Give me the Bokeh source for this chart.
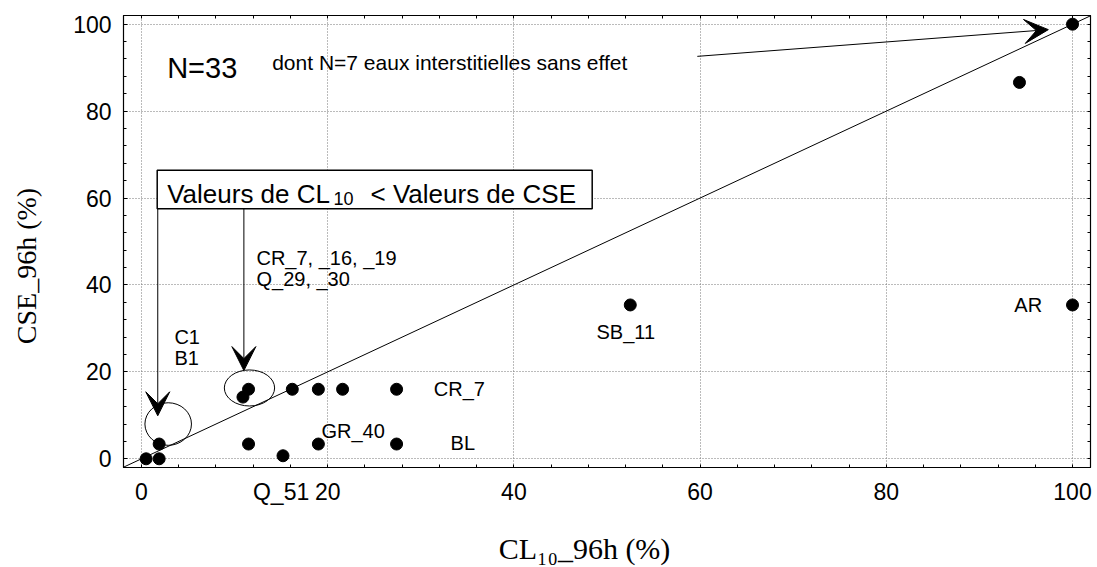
import math
from bokeh.plotting import figure
from bokeh.models import (Range1d, LinearAxis, Label, Arrow, VeeHead, BoxAnnotation,
                          Slope, FixedTicker, Grid)
from bokeh.embed import file_html
from bokeh.resources import INLINE

# ---------------- data ----------------
cl10_96h = [0.5, 1.9, 1.9, 11.5, 15.2, 19.0, 27.4, 10.9, 11.5, 16.2, 19.0, 21.6, 27.4,
            52.5, 100.0, 94.3, 100.0]
cse_96h = [0.0, 0.0, 3.4, 3.4, 0.7, 3.4, 3.4, 14.2, 16.0, 16.0, 16.0, 16.0, 16.0,
           35.4, 35.4, 86.6, 100.0]

major_ticks = [0, 20, 40, 60, 80, 100]
minor_ticks = list(range(0, 101, 4))
x_title = "CL\u2081\u2080_96h (%)"
y_title = "CSE_96h (%)"

# label written under the x axis, next to tick 20
below_name = "Q_51"
below_name_pos = 15

# annotation texts inside the frame
point_names = ["CR_7", "GR_40", "BL", "SB_11", "AR", "C1", "B1"]
point_name_x = [31.4, 19.33, 33.2, 48.87, 93.75, 3.54, 3.54]
point_name_y = [16.1, 6.4, 3.6, 29.2, 35.47, 28.1, 23.3]

group_lines = ["CR_7, _16, _19", "Q_29, _30"]
group_x = 12.35
group_y = [46.2, 41.4]

# circled groups (center x, center y, width, height in data units)
circ_x = [2.87, 11.6]
circ_y = [8.0, 16.3]
circ_w = [5.0, 5.4]
circ_h = [9.8, 8.3]

# ---------------- figure ----------------
p = figure(width=1097, height=567, output_backend="svg", toolbar_location=None,
           x_range=Range1d(-1.93, 101.93), y_range=Range1d(-2.0, 102.0),
           min_border_left=123, min_border_right=7, min_border_top=15, min_border_bottom=94,
           x_axis_type=None, y_axis_type=None)
p.outline_line_color = "black"
p.outline_line_width = 1.2
p.background_fill_color = "white"
p.border_fill_color = "white"

FONT = "Liberation Sans"
SERIF = "Liberation Serif"
NB = "\u00a0"


def make_axis(ticks, overrides=None, show_major_tick=True, standoff=0):
    ax = LinearAxis(ticker=FixedTicker(ticks=ticks, minor_ticks=minor_ticks))
    ax.axis_line_color = "black"
    ax.major_tick_in = 4 if show_major_tick else 0
    ax.major_tick_out = 0
    ax.minor_tick_in = 3
    ax.minor_tick_out = 0
    ax.major_tick_line_color = "black"
    ax.minor_tick_line_color = "black"
    ax.major_label_text_font = FONT
    ax.major_label_text_font_size = "23px"
    ax.major_label_text_color = "black"
    ax.major_label_standoff = standoff
    if overrides:
        ax.major_label_overrides = overrides
    return ax


xb = make_axis(sorted(major_ticks + [below_name_pos]), {below_name_pos: below_name},
               show_major_tick=False, standoff=11)
yl = make_axis(major_ticks, standoff=12)
xt = make_axis([])
yr = make_axis([])

xb.axis_label = x_title + NB * 6
xb.axis_label_text_font = SERIF
xb.axis_label_text_font_size = "30px"
xb.axis_label_text_font_style = "normal"
xb.axis_label_text_color = "black"
xb.axis_label_standoff = 24

yl.axis_label = y_title + NB * 7
yl.axis_label_text_font = SERIF
yl.axis_label_text_font_size = "28px"
yl.axis_label_text_font_style = "normal"
yl.axis_label_text_color = "black"
yl.axis_label_standoff = 28

p.add_layout(xb, "below")
p.add_layout(yl, "left")
p.add_layout(xt, "above")
p.add_layout(yr, "right")

for dim in (0, 1):
    g = Grid(dimension=dim, ticker=FixedTicker(ticks=major_ticks),
             grid_line_color="#777777", grid_line_dash="1 2", grid_line_width=1)
    p.add_layout(g, "center")

# 1:1 line
p.add_layout(Slope(gradient=1, y_intercept=0, line_color="black", line_width=1))

# points
p.scatter(cl10_96h, cse_96h, size=12, color="black", marker="circle")

# circles around groups
p.ellipse(x=circ_x, y=circ_y, width=circ_w, height=circ_h,
          fill_color=None, line_color="black", line_width=1)


# ---------------- annotations ----------------
def lab(text, x, y, size, font=FONT, **kw):
    l = Label(x=x, y=y, text=text, text_font=font, text_font_size=size,
              text_color="black", text_align=kw.pop("align", "left"),
              text_baseline=kw.pop("baseline", "alphabetic"), **kw)
    p.add_layout(l)
    return l


lab("N=33", 2.76, 89.9, "29px")
lab("dont N=7 eaux interstitielles sans effet", 14.04, 91.26, "21px")

# box with title
p.add_layout(BoxAnnotation(left=1.69, right=48.41, top=66.42, bottom=57.56,
                           fill_color="white", fill_alpha=1.0,
                           line_color="black", line_width=1.5, line_alpha=1.0))
lab("Valeurs de CL", 2.76, 60.83, "26px")
lab("10", 20.62, 59.83, "18px")
lab("< Valeurs de CSE", 24.6, 60.83, "26px")

# arrows
head = dict(size=24, fill_color="black", line_color="black")
p.add_layout(Arrow(end=VeeHead(**head), x_start=1.75, y_start=57.56, x_end=1.75, y_end=9.9,
                   line_color="black", line_width=1))
p.add_layout(Arrow(end=VeeHead(**head), x_start=11.0, y_start=57.56, x_end=11.0, y_end=20.3,
                   line_color="black", line_width=1))
p.add_layout(Arrow(end=VeeHead(**head), x_start=59.7, y_start=92.6, x_end=97.4, y_end=98.75,
                   line_color="black", line_width=1))

for t, yy in zip(group_lines, group_y):
    lab(t, group_x, yy, "20px")

for t, xx, yy in zip(point_names, point_name_x, point_name_y):
    lab(t, xx, yy, "20px")

open("out.html", "w").write(file_html(p, INLINE))
